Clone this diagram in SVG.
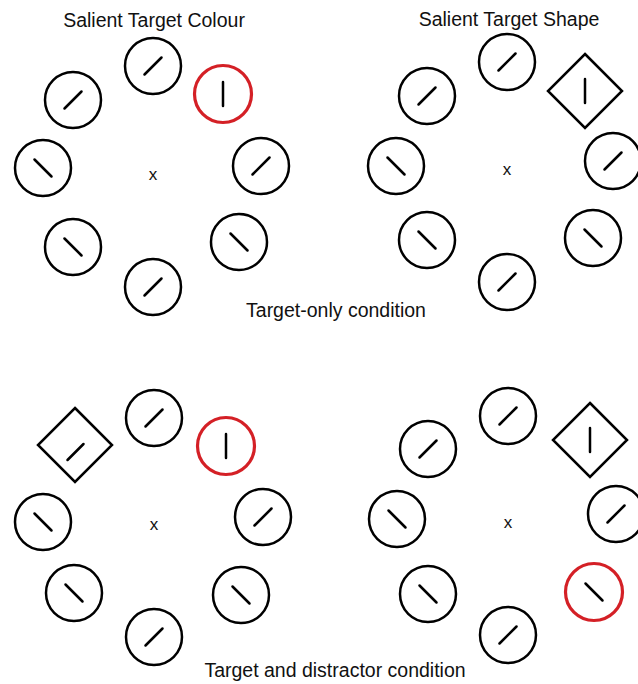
<svg xmlns="http://www.w3.org/2000/svg" xmlns:xlink="http://www.w3.org/1999/xlink" width="638" height="684" viewBox="0 0 638 684">
<style>
.ring{fill:none;stroke:#000;stroke-width:2.5}
.red{fill:none;stroke:#d42026;stroke-width:3.2}
.bar{stroke:#000;stroke-width:2.5;stroke-linecap:round}
.lbl{font-family:"Liberation Sans",Arial,sans-serif;font-size:19.5px;fill:#111;text-anchor:middle}
.fix{font-family:"Liberation Sans",Arial,sans-serif;font-size:17px;fill:#111;text-anchor:middle}
</style>
<defs>
<circle id="c" r="28" class="ring"/>
<circle id="cr" r="28.5" class="red"/>
<path id="dia" d="M0,-37 L37,0 L0,37 L-37,0 Z" class="ring"/>
<line id="f" x1="-8.5" y1="8.5" x2="8.5" y2="-8.5" class="bar"/>
<line id="b" x1="-8.5" y1="-8.5" x2="8.5" y2="8.5" class="bar"/>
<line id="v" x1="0" y1="-12" x2="0" y2="12" class="bar"/>
</defs>
<rect width="638" height="684" fill="#fff"/>

<text class="lbl" x="154" y="27">Salient Target Colour</text>
<text class="lbl" x="509" y="26">Salient Target Shape</text>
<text class="lbl" x="336" y="317">Target-only condition</text>
<text class="lbl" x="335" y="677">Target and distractor condition</text>

<g id="panel-colour">
<text class="fix" x="153" y="180">x</text>
<g id="p1-top" transform="translate(153,66)"><use xlink:href="#c"/><use xlink:href="#f"/></g>
<g id="p1-target" transform="translate(223,94)"><use xlink:href="#cr"/><use xlink:href="#v"/></g>
<g id="p1-tl" transform="translate(73,100)"><use xlink:href="#c"/><use xlink:href="#f"/></g>
<g id="p1-l" transform="translate(43,168)"><use xlink:href="#c"/><use xlink:href="#b"/></g>
<g id="p1-r" transform="translate(261,166)"><use xlink:href="#c"/><use xlink:href="#f"/></g>
<g id="p1-bl" transform="translate(73,247)"><use xlink:href="#c"/><use xlink:href="#b"/></g>
<g id="p1-br" transform="translate(239,242)"><use xlink:href="#c"/><use xlink:href="#b"/></g>
<g id="p1-b" transform="translate(153,287)"><use xlink:href="#c"/><use xlink:href="#f"/></g>
</g>

<g id="panel-shape">
<text class="fix" x="507" y="175">x</text>
<g id="p2-top" transform="translate(507,62)"><use xlink:href="#c"/><use xlink:href="#f"/></g>
<g id="p2-target" transform="translate(585,91)"><use xlink:href="#dia"/><use xlink:href="#v"/></g>
<g id="p2-tl" transform="translate(427,96)"><use xlink:href="#c"/><use xlink:href="#f"/></g>
<g id="p2-l" transform="translate(396,166)"><use xlink:href="#c"/><use xlink:href="#b"/></g>
<g id="p2-r" transform="translate(613,161)"><use xlink:href="#c"/><use xlink:href="#f"/></g>
<g id="p2-bl" transform="translate(427,240)"><use xlink:href="#c"/><use xlink:href="#b"/></g>
<g id="p2-br" transform="translate(593,238)"><use xlink:href="#c"/><use xlink:href="#b"/></g>
<g id="p2-b" transform="translate(507,282)"><use xlink:href="#c"/><use xlink:href="#f"/></g>
</g>

<g id="panel-colour-distractor">
<text class="fix" x="154" y="530">x</text>
<g id="p3-top" transform="translate(154,418)"><use xlink:href="#c"/><use xlink:href="#f"/></g>
<g id="p3-target" transform="translate(226,446)"><use xlink:href="#cr"/><use xlink:href="#v"/></g>
<g id="p3-distractor" transform="translate(75,445)"><use xlink:href="#dia"/><line x1="-7.5" y1="15" x2="8.5" y2="-1" class="bar"/></g>
<g id="p3-l" transform="translate(43,522)"><use xlink:href="#c"/><use xlink:href="#b"/></g>
<g id="p3-r" transform="translate(263,517)"><use xlink:href="#c"/><use xlink:href="#f"/></g>
<g id="p3-bl" transform="translate(74,593)"><use xlink:href="#c"/><use xlink:href="#b"/></g>
<g id="p3-br" transform="translate(241,595)"><use xlink:href="#c"/><use xlink:href="#b"/></g>
<g id="p3-b" transform="translate(154,637)"><use xlink:href="#c"/><use xlink:href="#f"/></g>
</g>

<g id="panel-shape-distractor">
<text class="fix" x="508" y="528">x</text>
<g id="p4-top" transform="translate(508,416)"><use xlink:href="#c"/><use xlink:href="#f"/></g>
<g id="p4-target" transform="translate(590,440)"><use xlink:href="#dia"/><use xlink:href="#v"/></g>
<g id="p4-tl" transform="translate(428,449)"><use xlink:href="#c"/><use xlink:href="#f"/></g>
<g id="p4-l" transform="translate(397,519)"><use xlink:href="#c"/><use xlink:href="#b"/></g>
<g id="p4-r" transform="translate(616,514)"><use xlink:href="#c"/><use xlink:href="#f"/></g>
<g id="p4-bl" transform="translate(428,594)"><use xlink:href="#c"/><use xlink:href="#b"/></g>
<g id="p4-distractor" transform="translate(594,592)"><use xlink:href="#cr"/><use xlink:href="#b"/></g>
<g id="p4-b" transform="translate(508,635)"><use xlink:href="#c"/><use xlink:href="#f"/></g>
</g>

<g id="connectors"/>
</svg>
